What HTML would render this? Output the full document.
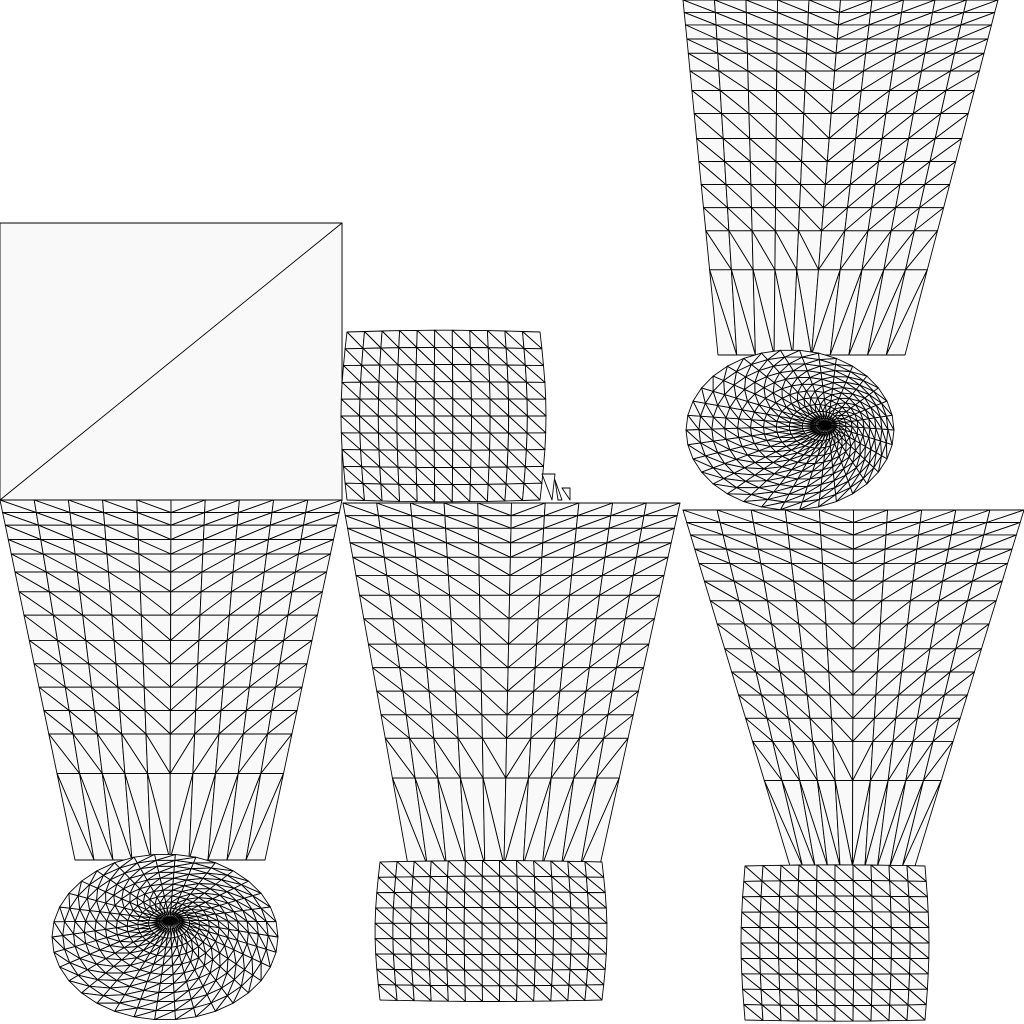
<!DOCTYPE html>
<html><head><meta charset="utf-8"><style>
html,body{margin:0;padding:0;background:#fff;width:1024px;height:1024px;overflow:hidden}
svg{display:block}
</style></head><body>
<svg id="uv" width="1024" height="1024" viewBox="0 0 1024 1024" xmlns="http://www.w3.org/2000/svg">
<g id="g" fill="#f9f9f9" stroke="#000" stroke-width="0.9" stroke-linejoin="round"></g>
</svg>
<script>
// row positions as fractions of trapezoid height
const rowFracs = [0,0.035,0.07,0.11,0.15,0.2,0.255,0.32,0.39,0.455,0.52,0.585,0.65,0.76,1];
const trapColumns = [10,10,10,10];
// trapezoids: [topLeftX, topRightX, topY, botLeftX, botRightX, botY]
const traps = [
  [0,342,500,75,265,860],
  [343,680,503,408,600,865],
  [683,1024,510,790,915,866],
  [683,998,0,718,905,355]
];
// circular patches: [cx, cy, rx, ry, ex(ellipse centre x), ey]
const discs = [
  [170,920,113,83,165,937],
  [828,425,104,80,790,430]
];
const discRings = [11,11];
const discSpokes = [34,34];
// grid patches: [x0,y0,x1,y1,cols,rows,bulge]
const patches = [
  [380,862,602,1000,13,9,5],
  [745,866,925,1020,10,10,4],
  [347,332,540,500,11,10,6]
];
const g = document.getElementById('g');
const NS = 'http://www.w3.org/2000/svg';
function poly(pts, name){
  const p = document.createElementNS(NS,'polygon');
  p.setAttribute('points', pts.map(q=>q[0].toFixed(1)+','+q[1].toFixed(1)).join(' '));
  
  
  g.appendChild(p);
}
function tri(a,b,c,name){ poly([a,b,c],name); }

poly([[0,223],[342,223],[342,500],[0,500]],'square-island');
tri([0,500],[342,223],[342,500],'square-diagonal-tri');

traps.forEach((t,ti)=>{
  const cols = trapColumns[ti];
  const pt=(u,v)=>{
    const xl=t[0]+(t[3]-t[0])*v, xr=t[1]+(t[4]-t[1])*v;
    return [xl+(xr-xl)*u, t[2]+(t[5]-t[2])*v];
  };
  for(let r=0;r<rowFracs.length-1;r++){
    const v0=rowFracs[r], v1=rowFracs[r+1];
    for(let c=0;c<cols;c++){
      const u0=c/cols,u1=(c+1)/cols;
      const a=pt(u0,v0),b=pt(u1,v0),cc=pt(u1,v1),d=pt(u0,v1);
      if(c<cols/2){ tri(a,b,cc,'trap-cell'); tri(a,cc,d,'trap-cell'); }
      else { tri(a,b,d,'trap-cell'); tri(b,cc,d,'trap-cell'); }
    }
  }
});

discs.forEach((d,di)=>{
  const R=discRings[di], S=discSpokes[di];
  const pt=(k,i)=>{
    const a=i/S*Math.PI*2;
    const bx=d[4]+d[2]*Math.cos(a), by=d[5]+d[3]*Math.sin(a);
    const t=k/R;
    return [d[0]+(bx-d[0])*t, d[1]+(by-d[1])*t];
  };
  for(let k=0;k<R;k++){
    for(let i=0;i<S;i++){
      const a=pt(k,i),b=pt(k,i+1),c=pt(k+1,i+1),e=pt(k+1,i);
      if(k===0){ tri(a,c,e,'disc-cell'); }
      else { tri(a,b,c,'disc-cell'); tri(a,c,e,'disc-cell'); }
    }
  }
});

patches.forEach(p=>{
  const [x0,y0,x1,y1,C,Rw,bl]=p;
  const pt=(u,v)=>{
    const bulge=bl*Math.sin(Math.PI*v);
    const xl=x0-bulge, xr=x1+bulge;
    const yb=Math.sin(Math.PI*u)*bl*0.3;
    return [xl+(xr-xl)*u, y0-yb+(y1-y0+2*yb)*v];
  };
  for(let r=0;r<Rw;r++)for(let c=0;c<C;c++){
    const a=pt(c/C,r/Rw),b=pt((c+1)/C,r/Rw),cc=pt((c+1)/C,(r+1)/Rw),d=pt(c/C,(r+1)/Rw);
    tri(a,b,cc,'patch-cell'); tri(a,cc,d,'patch-cell');
  }
});

tri([542,474],[555,474],[552,500],'sliver');
tri([555,480],[562,500],[558,500],'sliver');
tri([562,488],[570,500],[570,488],'sliver');
</script>
</body></html>
